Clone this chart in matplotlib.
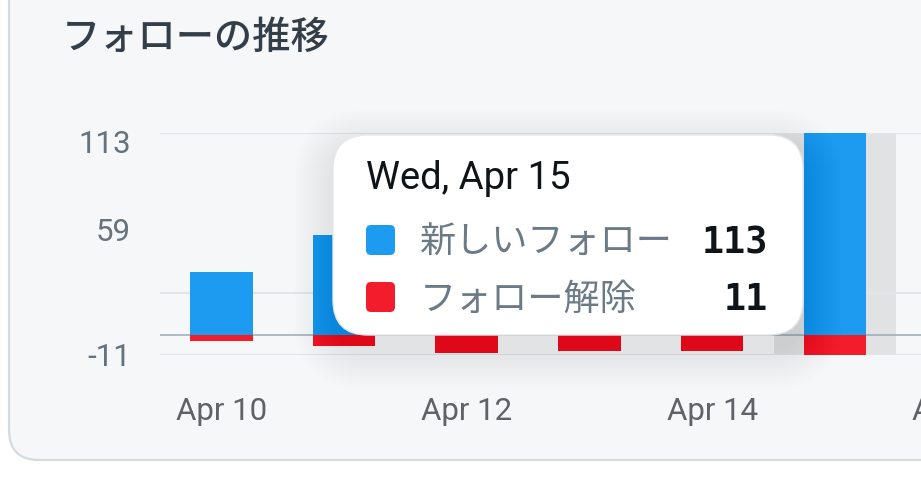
import numpy as np
import matplotlib
matplotlib.use('Agg')
import matplotlib.pyplot as plt
from matplotlib.patches import FancyBboxPatch
from matplotlib.transforms import IdentityTransform, ScaledTranslation

# data (Apr 12-14 new follows sit under the tooltip, so they are guesses)
days = ['Apr 10', 'Apr 11', 'Apr 12', 'Apr 13', 'Apr 14', 'Apr 15']
new_follows = [35, 56, 48, 52, 61, 113]
unfollows = [3, 6, 10, 9, 9, 11]
tick_labels = ['Apr 10', 'Apr 12', 'Apr 14', 'Apr 16']
y_ticks = [113, 59, -11]
grid_values = [113, 23.5, -11]
title = 'フォローの推移'
series_names = ['新しいフォロー', 'フォロー解除']
tooltip_title = 'Wed, Apr 15'
hover_idx = 5

BLUE = '#1d9bf0'
RED = '#f31c2d'
W, H = 921, 496
CJK = ['Noto Sans CJK JP', 'DejaVu Sans']
LATIN = ['Roboto', 'DejaVu Sans']
STEP = 122.7  # px per day

fig = plt.figure(figsize=(W / 100, H / 100), dpi=100, facecolor='white')
px = IdentityTransform()


def Y(y):
    # top-left pixel -> display pixel
    return H - y


# card
card = FancyBboxPatch((9, Y(460)), 1200, 700, boxstyle='round,pad=0,rounding_size=30',
                      transform=px, fc='#f5f7f8', ec='#d3dbe1', lw=1.6, zorder=-5)
fig.add_artist(card)
fig.text(62, Y(38), title, transform=px, family=CJK, fontsize=27.5, fontweight='medium',
         color='#333e48', va='center', ha='left')

# axes runs past the right edge of the picture, like the cropped original
ax = fig.add_axes([160 / W, (H - 355) / H, 7 * STEP / W, (355 - 132.5) / H])
ax.set_facecolor('none')
x = np.arange(len(days))

ax.axvspan(hover_idx - 0.5, hover_idx + 0.5, ymin=0.0, ymax=1.0, color='#e1e2e3', lw=0, zorder=0)
for g in grid_values:
    ax.axhline(g, color='#e1e5e9', lw=1.5, zorder=1)
ax.axhline(0, color='#a3afba', lw=1.2, zorder=1)

ax.bar(x, new_follows, width=0.51, color=BLUE, zorder=2, clip_on=False)
ax.bar(x, -np.array(unfollows), width=0.51, color=RED, zorder=2, clip_on=False)

ax.set_yticks(y_ticks)
ax.set_yticklabels([str(v) for v in y_ticks])
ax.set_xticks([0, 2, 4, 6])
ax.set_xticklabels(tick_labels)
ax.set_xlim(-0.5, 6.5)
ax.set_ylim(-11, 113)
ax.tick_params(axis='both', length=0)
ax.tick_params(axis='y', pad=21, labelsize=22.5, labelcolor='#66727e')
ax.tick_params(axis='x', pad=30, labelsize=22.5, labelcolor='#5f6368')
for lab in ax.get_xticklabels() + ax.get_yticklabels():
    lab.set_family(LATIN)
# top label sits a bit under its grid line
top_lab = ax.get_yticklabels()[0]
top_lab.set_transform(top_lab.get_transform() + ScaledTranslation(0, -9 / 100, fig.dpi_scale_trans))
for s in ax.spines.values():
    s.set_visible(False)

# tooltip shadow
tx0, ty0, tx1, ty1 = 333, 135, 803, 335
for k in range(1, 21):
    grow = 2 * k
    sh = FancyBboxPatch((tx0 - grow, Y(ty1 + 14) - grow), (tx1 - tx0) + 2 * grow, (ty1 - ty0) + 2 * grow,
                        boxstyle='round,pad=0,rounding_size=%d' % (35 + grow), transform=px,
                        fc='black', ec='none', alpha=0.005, zorder=8)
    fig.add_artist(sh)

tip = FancyBboxPatch((tx0, Y(ty1)), tx1 - tx0, ty1 - ty0, boxstyle='round,pad=0,rounding_size=35',
                     transform=px, fc='white', ec='#e6e9ec', lw=1.0, zorder=9)
fig.add_artist(tip)
fig.text(366, Y(189), tooltip_title, transform=px, family=LATIN, fontsize=27.5,
         color='#0f1419', va='baseline', ha='left', zorder=10)

values = [new_follows[hover_idx], unfollows[hover_idx]]
colors = [BLUE, RED]
for i, (name, val, c) in enumerate(zip(series_names, values, colors)):
    top = 225 + 57 * i
    sq = FancyBboxPatch((366, Y(top + 30)), 29, 30, boxstyle='round,pad=0,rounding_size=5',
                        transform=px, fc=c, ec='none', zorder=10)
    fig.add_artist(sq)
    fig.text(420, Y(top + 28), name, transform=px, family=CJK, fontsize=26,
             color='#6b7a87', va='baseline', ha='left', zorder=10)
    fig.text(768, Y(top + 28), str(val), transform=px, family=['DejaVu Sans Mono'],
             fontsize=26.5, fontweight='bold', color='#0f1419', va='baseline', ha='right', zorder=10)

fig.savefig('out.png', dpi=100, facecolor='white')
